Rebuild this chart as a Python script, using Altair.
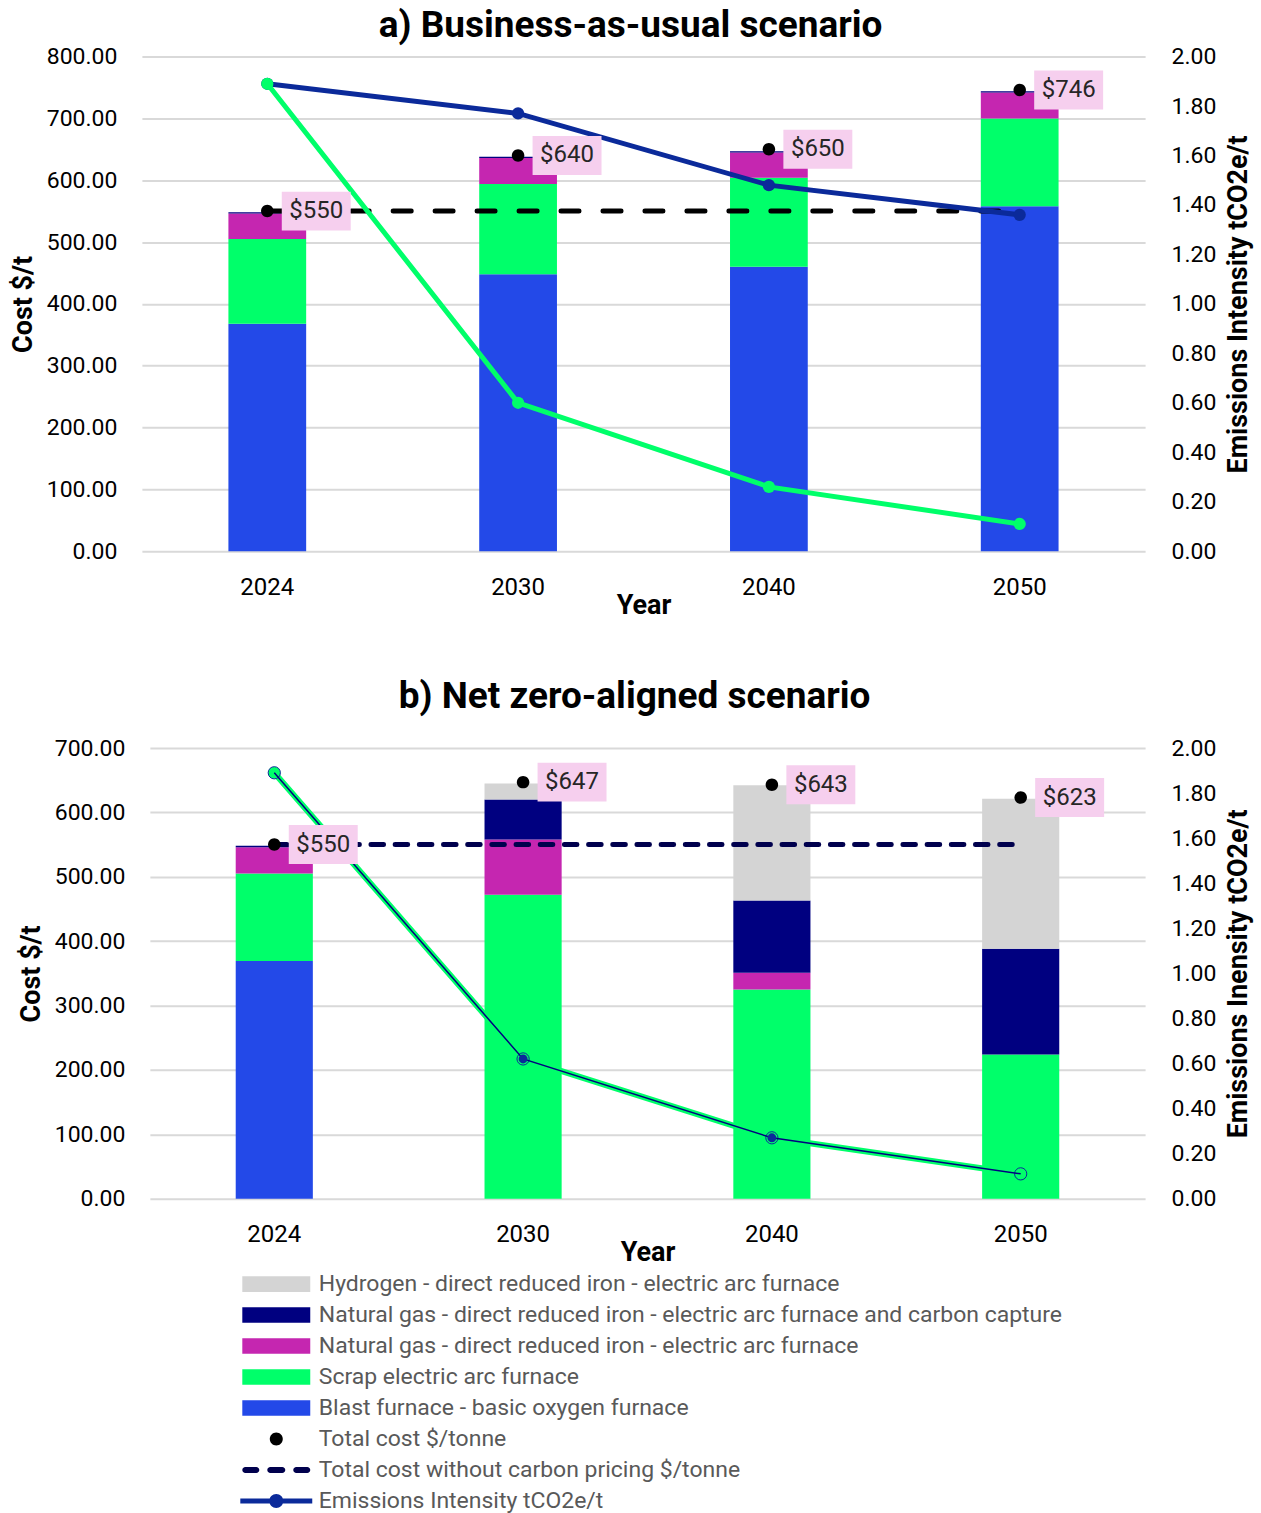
import altair as alt
import pandas as pd

# ---------------------------------------------------------------- data
YEARS = ["2024", "2030", "2040", "2050"]

H2 = "Hydrogen - direct reduced iron - electric arc furnace"
CCS = "Natural gas - direct reduced iron - electric arc furnace and carbon capture"
NG = "Natural gas - direct reduced iron - electric arc furnace"
SCRAP = "Scrap electric arc furnace"
BF = "Blast furnace - basic oxygen furnace"
TOTAL = "Total cost $/tonne"
NO_CARBON = "Total cost without carbon pricing $/tonne"
EMIS = "Emissions Intensity tCO2e/t"

# bottom-to-top stacking order of the technology bars
STACK_ORDER = [BF, SCRAP, NG, CCS, H2]

# legend entries (top to bottom) and their colours
LEGEND_ITEMS = [H2, CCS, NG, SCRAP, BF, TOTAL, NO_CARBON, EMIS]
LEGEND_COLORS = ["#d4d4d4", "#000080", "#c526b0", "#00ff6a", "#2349e8",
                 "#000000", "#00004d", "#0b2a9a"]

# a) Business-as-usual: cost components, $/t
BAU_BF = [368, 448, 460, 558]
BAU_SCRAP = [137, 146, 144, 142]
BAU_NG = [41, 42, 41, 42]
BAU_CCS = [2, 2, 2, 2]
BAU_H2 = [0, 0, 0, 0]
BAU_TOTAL = [550, 640, 650, 746]
BAU_NO_CARBON = [550, 550, 550, 550]
BAU_EMIS = [1.89, 1.77, 1.48, 1.36]
BAU_EMIS_NZ = [1.89, 0.60, 0.26, 0.11]

# b) Net zero-aligned: cost components, $/t
NZ_BF = [369, 0, 0, 0]
NZ_SCRAP = [136, 472, 325, 224]
NZ_NG = [41, 86, 26, 0]
NZ_CCS = [2, 62, 112, 164]
NZ_H2 = [0, 25, 179, 233]
NZ_TOTAL = [550, 647, 643, 623]
NZ_NO_CARBON = [550, 550, 550, 550]
NZ_EMIS = [1.89, 0.62, 0.27, 0.11]
NZ_MARKER_YEARS = ["2030", "2040"]

BAU_COST_TICKS = [0, 100, 200, 300, 400, 500, 600, 700, 800]
NZ_COST_TICKS = [0, 100, 200, 300, 400, 500, 600, 700]
EMIS_TICKS = [0, 0.2, 0.4, 0.6, 0.8, 1.0, 1.2, 1.4, 1.6, 1.8, 2.0]

# ---------------------------------------------------------------- symbols
# legend symbols are custom paths; at symbolSize 400 one unit is 10 px
RECT_PATH = "M-3.4,-0.78H3.4V0.78H-3.4Z"


def circle(r):
    return f"M{-r},0A{r},{r} 0 1,1 {r},0A{r},{r} 0 1,1 {-r},0Z"


def capsule(a, b, r):
    return (f"M{a + r:.3f},{-r:.3f}H{b - r:.3f}A{r},{r} 0 0,1 {b - r:.3f},{r:.3f}"
            f"H{a + r:.3f}A{r},{r} 0 0,1 {a + r:.3f},{-r:.3f}Z")


DOT_PATH = circle(0.65)
DASH_PATH = " ".join([capsule(-3.4, -1.7, 0.3),
                      capsule(-0.9, 0.9, 0.3),
                      capsule(1.7, 3.4, 0.3)])
LINE_DOT_PATH = "M-3.6,-0.25H3.6V0.25H-3.6Z " + circle(0.7)
LEGEND_SHAPES = [RECT_PATH] * 5 + [DOT_PATH, DASH_PATH, LINE_DOT_PATH]
BOX_PATH = "M-1,-0.565H1V0.565H-1Z"

FONT = "Roboto"
GREEN = "#00ff6a"
LINE_BLUE = "#0b2a9a"
LABEL_BG = "#f6cfee"
AXIS_TITLE_SIZE = 27

legend = alt.Legend(
    orient="none", legendX=123, legendY=1217, direction="vertical", title=None,
    symbolSize=400, symbolStrokeWidth=0, labelFont=FONT, labelFontSize=23,
    labelColor="#595959", labelOffset=31, labelLimit=1200, rowPadding=7,
)
color_scale = alt.Scale(domain=LEGEND_ITEMS, range=LEGEND_COLORS)
shape_scale = alt.Scale(domain=LEGEND_ITEMS, range=LEGEND_SHAPES)


def stack_frame(parts):
    rows = []
    for tech, vals in parts.items():
        for yr, v in zip(YEARS, vals):
            rows.append({"year": yr, "item": tech, "cost": v,
                         "rank": STACK_ORDER.index(tech)})
    return pd.DataFrame(rows)


def panel(title, parts, totals, no_carbon, emis_main, emis_other, cost_ticks,
          height, x_range, left_pad, right_title, title_offset,
          dash, dash_color, nz_style):
    x = alt.X("year:N", sort=YEARS, title="Year",
              scale=alt.Scale(paddingInner=0.69, paddingOuter=0.345, range=x_range),
              axis=alt.Axis(labelAngle=0, ticks=False, domain=False, labelFont=FONT,
                            labelFontSize=24, labelColor="#000000", labelPadding=24,
                            titleFont=FONT, titleFontSize=AXIS_TITLE_SIZE,
                            titleFontWeight="bold", titleColor="#000000",
                            titleY=41, titleBaseline="top"))
    cost_scale = alt.Scale(domain=[cost_ticks[0], cost_ticks[-1]], nice=False)
    cost_axis = alt.Axis(values=cost_ticks, format=".2f", ticks=False, domain=False,
                         grid=True, gridColor="#d9d9d9", gridWidth=2,
                         labelFont=FONT, labelFontSize=23, labelColor="#000000",
                         labelPadding=left_pad, titleFont=FONT,
                         titleFontSize=AXIS_TITLE_SIZE, titleFontWeight="bold",
                         titleColor="#000000", titlePadding=9, titleAngle=270,
                         titleBaseline="bottom")

    def ycost(field, with_axis=True):
        if with_axis:
            return alt.Y(field, title="Cost $/t", scale=cost_scale, axis=cost_axis,
                         stack=False)
        return alt.Y(field, title="Cost $/t", scale=cost_scale, axis=None, stack=False)

    stack_df = stack_frame(parts)
    tot_df = pd.DataFrame({"year": YEARS, "cost": totals, "item": TOTAL,
                           "label": [f"${v}" for v in totals]})
    nc_df = pd.DataFrame({"year": YEARS, "cost": no_carbon})

    # stacked technology costs and the no-carbon-price reference line
    bars = alt.Chart(stack_df).mark_bar().encode(
        x=x,
        y=alt.Y("cost:Q", title="Cost $/t", scale=cost_scale, axis=cost_axis,
                stack="zero"),
        color=alt.Color("item:N", scale=color_scale, legend=legend),
        order=alt.Order("rank:Q", sort="ascending"),
    )
    dashed = alt.Chart(nc_df).mark_line(
        color=dash_color, strokeWidth=5, strokeDash=dash, strokeCap="round"
    ).encode(x=x, y=ycost("cost:Q"))
    cost_base = alt.layer(bars, dashed)

    # emissions intensity on the right-hand axis
    emis_scale = alt.Scale(domain=[0, 2], nice=False)
    emis_axis = alt.Axis(orient="right", values=EMIS_TICKS, format=".2f", grid=False,
                         ticks=False, domain=False, labelFont=FONT, labelFontSize=23,
                         labelColor="#000000", labelPadding=26, titleFont=FONT,
                         titleFontSize=AXIS_TITLE_SIZE, titleFontWeight="bold",
                         titleColor="#000000", titlePadding=10, titleAngle=270,
                         titleBaseline="top")

    def yemis():
        return alt.Y("value:Q", title=right_title, scale=emis_scale, axis=emis_axis)

    main_df = pd.DataFrame({"year": YEARS, "value": emis_main})
    other_df = pd.DataFrame({"year": YEARS, "value": emis_other})

    if not nz_style:
        emis = alt.layer(
            alt.Chart(main_df).mark_line(color=LINE_BLUE, strokeWidth=5).encode(x=x, y=yemis()),
            alt.Chart(main_df).mark_circle(color=LINE_BLUE, size=150, opacity=1).encode(x=x, y=yemis()),
            alt.Chart(other_df).mark_line(color=GREEN, strokeWidth=5).encode(x=x, y=yemis()),
            alt.Chart(other_df).mark_circle(color=GREEN, size=150, opacity=1).encode(x=x, y=yemis()),
        )
    else:
        marker_df = main_df[main_df["year"].isin(NZ_MARKER_YEARS)]
        emis = alt.layer(
            alt.Chart(other_df).mark_line(color=GREEN, strokeWidth=6).encode(x=x, y=yemis()),
            alt.Chart(other_df).mark_point(filled=True, color=GREEN, size=150, opacity=1,
                                           stroke=LINE_BLUE, strokeWidth=1).encode(x=x, y=yemis()),
            alt.Chart(main_df).mark_line(color="#000080", strokeWidth=1.5).encode(x=x, y=yemis()),
            alt.Chart(marker_df).mark_circle(color=LINE_BLUE, size=80, opacity=1).encode(x=x, y=yemis()),
        )

    # total-cost markers and their value labels, drawn above everything else
    boxes = alt.Chart(tot_df).mark_point(
        shape=BOX_PATH, filled=True, color=LABEL_BG, opacity=1, size=4761, xOffset=49
    ).encode(x=x, y=ycost("cost:Q", False))
    texts = alt.Chart(tot_df).mark_text(
        dx=49, font=FONT, fontSize=24, color="#262626", align="center",
        baseline="middle"
    ).encode(x=x, y=ycost("cost:Q", False), text="label:N")
    dots = alt.Chart(tot_df).mark_point(filled=True, opacity=1, size=370).encode(
        x=x, y=ycost("cost:Q", False),
        color=alt.Color("item:N", scale=color_scale, legend=legend),
        shape=alt.Shape("item:N", scale=shape_scale, legend=legend),
    )
    cost_top = alt.layer(boxes, texts, dots)

    return alt.layer(cost_base, emis, cost_top).resolve_scale(y="independent").properties(
        width=1004, height=height,
        title=alt.TitleParams(title, font=FONT, fontSize=37, fontWeight="bold",
                              color="#000000", anchor="middle", frame="bounds",
                              offset=title_offset),
    )


panel_a = panel(
    "a) Business-as-usual scenario",
    {BF: BAU_BF, SCRAP: BAU_SCRAP, NG: BAU_NG, CCS: BAU_CCS, H2: BAU_H2},
    BAU_TOTAL, BAU_NO_CARBON, BAU_EMIS, BAU_EMIS_NZ, BAU_COST_TICKS, 495,
    [0, 1004], 25, "Emissions Intensity tCO2e/t", 1, [18, 24], "#000000", False,
)
panel_b = panel(
    "b) Net zero-aligned scenario",
    {BF: NZ_BF, SCRAP: NZ_SCRAP, NG: NZ_NG, CCS: NZ_CCS, H2: NZ_H2},
    NZ_TOTAL, NZ_NO_CARBON, NZ_EMIS, NZ_EMIS, NZ_COST_TICKS, 451,
    [8, 1004], 17, "Emissions Inensity tCO2e/t", 21, [12.5, 11.7], "#00004d", True,
)

chart = alt.vconcat(panel_a, panel_b, spacing=60).properties(
    padding={"left": 9, "right": 9, "top": 6, "bottom": 0},
    background="#ffffff",
).configure_view(strokeWidth=0)

chart.save("out.html", embed_options={"renderer": "svg", "actions": False})
